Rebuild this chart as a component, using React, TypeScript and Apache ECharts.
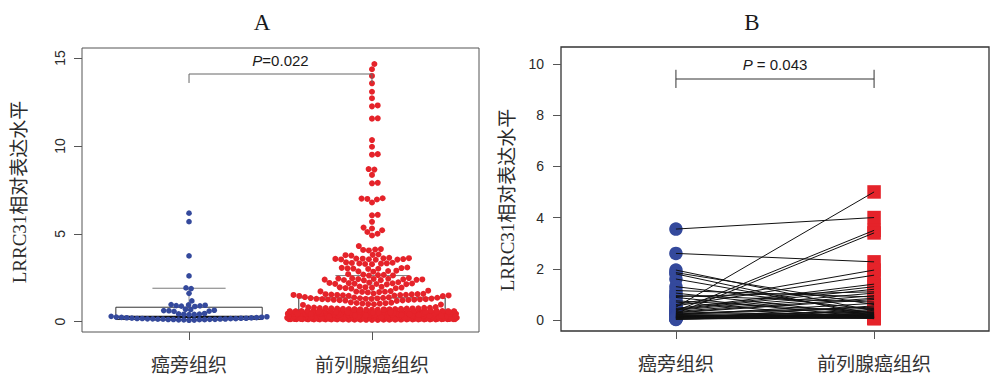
import React, { useEffect, useRef } from 'react';
import * as echarts from 'echarts';

// ---------------- data ----------------
const categories = ['癌旁组织', '前列腺癌组织'];
const panelTitles = ['A', 'B'];
const yAxisTitle = 'LRRC31相对表达水平';
const ticksA = [0, 5, 10, 15];
const ticksB = [0, 2, 4, 6, 8, 10];
const pTextA = ['P', '=0.022'];
const pTextB = ['P', ' = 0.043'];

// Panel A: normal tissue (blue)
const normalA = [
  0.08, 0.09, 0.10, 0.10, 0.11, 0.11, 0.12, 0.12, 0.13, 0.13, 0.14, 0.14, 0.15, 0.15, 0.16, 0.16,
  0.17, 0.17, 0.18, 0.18, 0.19, 0.19, 0.20, 0.21, 0.22, 0.23, 0.24, 0.25, 0.26, 0.28, 0.30,
  0.40, 0.41, 0.42, 0.43, 0.44, 0.46,
  0.58, 0.60, 0.62, 0.63, 0.65, 0.68, 0.70,
  0.86, 0.88, 0.90, 0.91, 0.93, 0.95, 0.97,
  1.18, 1.61, 1.88, 1.92, 2.60, 3.74, 5.69, 6.17,
];

// Panel A: tumour tissue (red) – dense low part
const tumorLowA = [
  0.10, 0.10, 0.11, 0.11, 0.11, 0.12, 0.12, 0.12, 0.12, 0.13, 0.13, 0.13, 0.13, 0.14, 0.14,
  0.14, 0.14, 0.15, 0.15, 0.15, 0.15, 0.16, 0.16, 0.16, 0.16, 0.17, 0.17, 0.17, 0.17, 0.18,
  0.18, 0.18, 0.18, 0.19, 0.19, 0.19, 0.19, 0.20, 0.20, 0.20, 0.20, 0.21, 0.21, 0.21, 0.21,
  0.22, 0.22, 0.22, 0.22, 0.23, 0.23, 0.23, 0.24, 0.24, 0.24, 0.24, 0.25, 0.25, 0.25, 0.26,
  0.26, 0.26, 0.27, 0.27, 0.27, 0.28, 0.28, 0.28, 0.29, 0.29, 0.29, 0.30, 0.30, 0.30, 0.31,
  0.31, 0.31, 0.32, 0.32, 0.32, 0.33, 0.33, 0.33, 0.34, 0.34, 0.35, 0.35, 0.35, 0.36, 0.36,
  0.36, 0.37, 0.37, 0.38, 0.38, 0.38, 0.39, 0.39, 0.40, 0.40, 0.40, 0.41, 0.41, 0.42, 0.42,
  0.43, 0.43, 0.43, 0.44, 0.44, 0.45, 0.45, 0.46, 0.46, 0.46, 0.47, 0.47, 0.48, 0.48, 0.49,
  0.49, 0.50, 0.50, 0.51, 0.51, 0.52, 0.52, 0.53, 0.53, 0.54, 0.54, 0.55, 0.55, 0.56, 0.56,
  0.57, 0.57, 0.58, 0.58, 0.59, 0.60, 0.60, 0.61, 0.62, 0.62, 0.63, 0.64, 0.64, 0.65, 0.66,
  0.66, 0.67, 0.68, 0.69, 0.69, 0.70, 0.71, 0.72, 0.73, 0.74, 0.75, 0.76, 0.77, 0.79, 0.81,
  0.105, 0.108, 0.115, 0.118, 0.122, 0.125, 0.127, 0.133, 0.135, 0.138, 0.142, 0.145, 0.147, 0.152, 0.155,
  0.158, 0.162, 0.164, 0.168, 0.172, 0.175, 0.178, 0.182, 0.185, 0.188, 0.192, 0.195, 0.198, 0.203, 0.206,
  0.208, 0.212, 0.215, 0.218, 0.223, 0.226, 0.228, 0.233, 0.236, 0.238, 0.243, 0.246, 0.248, 0.253, 0.256,
  0.262, 0.265, 0.268, 0.274, 0.277, 0.283, 0.286, 0.292, 0.295, 0.298, 0.304, 0.308, 0.313, 0.316, 0.322,
  0.325, 0.328, 0.334, 0.337, 0.343, 0.346, 0.353, 0.357, 0.363, 0.366, 0.372, 0.375, 0.384, 0.387, 0.393,
  0.396, 0.404, 0.407, 0.414, 0.418, 0.424, 0.428, 0.435, 0.438, 0.445, 0.449, 0.456, 0.462, 0.467, 0.473,
  0.478, 0.484, 0.488, 0.495, 0.503, 0.508, 0.514, 0.518, 0.525, 0.532, 0.537, 0.544, 0.548, 0.555, 0.563,
  0.567, 0.574, 0.582, 0.586, 0.594, 0.605, 0.613, 0.618, 0.627, 0.635, 0.645, 0.652, 0.662, 0.674, 0.683,
  0.692, 0.705, 0.715, 0.728, 0.742, 0.756, 0.768, 0.785, 0.803, 0.825, 0.112, 0.124, 0.137, 0.149, 0.163,
  0.176, 0.189, 0.201, 0.214, 0.227, 0.241, 0.254, 0.267, 0.281, 0.294, 0.307, 0.319, 0.332, 0.348, 0.361,
  0.377, 0.391, 0.402, 0.416, 0.431, 0.443, 0.458, 0.471, 0.486, 0.499, 0.512, 0.527, 0.541, 0.558, 0.572,
];

// tumour: middle rows
const tumorMidA = [
  0.95, 0.97, 0.99, 1.00, 1.02, 1.03, 1.05, 1.06, 1.08, 1.10,
  1.18, 1.20, 1.21, 1.22, 1.23, 1.24, 1.25, 1.26, 1.27, 1.28, 1.28, 1.29, 1.30, 1.30, 1.31, 1.32, 1.33, 1.34, 1.35, 1.36, 1.37, 1.38, 1.40,
  1.45, 1.46, 1.47, 1.48, 1.49, 1.50, 1.51, 1.52, 1.52, 1.53, 1.54, 1.55, 1.56, 1.57, 1.58, 1.60,
  1.66, 1.68, 1.69, 1.70, 1.71, 1.72, 1.74, 1.76,
  1.88, 1.90, 1.91, 1.93, 1.94, 1.95, 1.96, 1.98, 2.00,
  2.12, 2.13, 2.14, 2.15, 2.16, 2.17, 2.18, 2.19, 2.20, 2.22, 2.24,
  2.35, 2.36, 2.37, 2.38, 2.39, 2.40, 2.41, 2.42, 2.43, 2.44, 2.45, 2.46, 2.48,
  2.62, 2.63, 2.65, 2.66, 2.68, 2.70,
  2.84, 2.86, 2.88, 2.90,
  3.00, 3.01, 3.02, 3.03, 3.05, 3.06, 3.08,
  3.27, 3.28, 3.30, 3.31, 3.32, 3.34, 3.35, 3.37,
  3.52, 3.53, 3.54, 3.55, 3.56, 3.57, 3.58, 3.59, 3.60, 3.61, 3.63,
  3.76, 3.78, 3.80, 3.82,
  4.05, 4.08, 4.10, 4.13, 4.30,
];

// tumour: high values
const tumorHighA = [
  4.90, 5.00, 5.10, 5.20, 5.30, 5.35, 5.68, 6.05, 6.08, 6.78, 6.95, 6.98, 7.00, 7.02, 7.87, 7.90,
  8.35, 8.65, 8.68, 9.50, 9.53, 9.95, 10.33, 11.55, 11.57, 12.25, 12.30, 12.71, 13.08, 13.56,
  13.98, 14.36, 14.66,
];

// boxplot stats: [lower whisker, Q1, median, Q3, upper whisker]
const boxNormalA = [0.08, 0.12, 0.27, 0.82, 1.9];
const boxTumorA = [0.1, 0.2, 0.45, 1.35, 2.62];

// Panel B: paired samples
const pairedNormal = [
  3.55, 2.60, 1.95, 1.85, 1.80, 1.60, 1.30, 1.15, 1.05, 0.95,
  0.92, 0.88, 0.75, 0.70, 0.60, 0.55, 0.50, 0.45, 0.42, 0.40,
  0.38, 0.35, 0.33, 0.30, 0.28, 0.26, 0.25, 0.24, 0.22, 0.20,
  0.20, 0.18, 0.17, 0.16, 0.15, 0.14, 0.13, 0.12, 0.12, 0.11,
  0.10, 0.10, 0.09, 0.08, 0.07, 0.06, 0.05, 0.04, 0.03, 0.02,
];
const pairedTumor = [
  4.00, 2.27, 0.35, 0.60, 0.15, 0.25, 0.40, 0.90, 0.20, 0.70,
  1.10, 0.10, 0.30, 0.05, 1.95, 1.75, 5.00, 1.40, 1.30, 1.20,
  1.05, 3.50, 0.95, 0.85, 0.80, 0.50, 3.40, 0.45, 0.30, 0.20,
  0.65, 0.15, 0.12, 0.10, 0.25, 0.18, 0.08, 0.22, 0.10, 0.35,
  0.14, 0.06, 0.20, 0.12, 0.40, 0.10, 0.55, 0.08, 0.16, 0.28,
];

// ---------------- layout ----------------
const GA = { left: 82, top: 48, width: 397, height: 284 };
const GB = { left: 561, top: 47, width: 428, height: 284 };
const XA = [0.415, 2.585];
const YA = [-0.59, 15.57];
const XB = [0.42, 2.58];
const YB = [-0.43, 10.66];

const BLUE = '#34499c';
const RED = '#e5232a';

function swarmOffsets(values: number[], pxPerUnit: number, d: number, corral: number): number[] {
  const n = values.length;
  const order = values.map((_, i) => i).sort((a, b) => values[a] - values[b]);
  const ys = values.map((v) => v * pxPerUnit);
  const xs = new Array<number>(n).fill(0);
  const placed: number[] = [];
  const d2 = d * d;
  for (const i of order) {
    const yi = ys[i];
    const near: number[] = [];
    for (let k = placed.length - 1; k >= 0; k--) {
      const j = placed[k];
      if (yi - ys[j] >= d) break;
      near.push(j);
    }
    const cands: number[] = [0];
    for (const j of near) {
      const dy = ys[j] - yi;
      const dx = Math.sqrt(Math.max(0, d2 - dy * dy));
      cands.push(xs[j] + dx, xs[j] - dx);
    }
    cands.sort((a, b) => Math.abs(a) - Math.abs(b) || b - a);
    let best = cands[cands.length - 1];
    for (const c of cands) {
      let ok = true;
      for (const j of near) {
        const dx = xs[j] - c;
        const dy = ys[j] - yi;
        if (dx * dx + dy * dy < d2 - 1e-6) {
          ok = false;
          break;
        }
      }
      if (ok) {
        best = c;
        break;
      }
    }
    xs[i] = best;
    placed.push(i);
  }
  const half = corral / 2;
  return xs.map((x) => ((((x + half) % corral) + corral) % corral) - half);
}

const tickFont = { fontFamily: '"Liberation Sans", Arial, sans-serif', fontSize: 14, color: '#2a2a2a' };
const catFont = { fontFamily: '"Noto Sans CJK SC", sans-serif', fontSize: 19, color: '#333' };

function bracketItem(texts: string[], color: string) {
  return (params: any, api: any) => {
    const x1 = api.value(0);
    const x2 = api.value(1);
    const yl = api.value(2);
    const ylo = api.value(3);
    const yhi = api.value(4);
    const yt = api.value(5);
    const a = api.coord([x1, yl]);
    const b = api.coord([x2, yl]);
    const a1 = api.coord([x1, ylo]);
    const a2 = api.coord([x1, yhi]);
    const b1 = api.coord([x2, ylo]);
    const b2 = api.coord([x2, yhi]);
    const t = api.coord([(x1 + x2) / 2, yt]);
    const ls = { stroke: color, lineWidth: 1 };
    return {
      type: 'group',
      children: [
        { type: 'line', shape: { x1: a[0], y1: a[1], x2: b[0], y2: b[1] }, style: ls },
        { type: 'line', shape: { x1: a1[0], y1: a1[1], x2: a2[0], y2: a2[1] }, style: ls },
        { type: 'line', shape: { x1: b1[0], y1: b1[1], x2: b2[0], y2: b2[1] }, style: ls },
        {
          type: 'text',
          x: t[0],
          y: t[1],
          style: {
            text: '{i|' + texts[0] + '}{n|' + texts[1] + '}',
            align: 'center',
            verticalAlign: 'middle',
            fontSize: 15,
            fontFamily: '"Liberation Sans", Arial, sans-serif',
            fill: '#1a1a1a',
            rich: {
              i: { fontStyle: 'italic', fontSize: 15, fontFamily: '"Liberation Sans", Arial, sans-serif', fill: '#1a1a1a' },
              n: { fontSize: 15, fontFamily: '"Liberation Sans", Arial, sans-serif', fill: '#1a1a1a' },
            },
          },
        },
      ],
    };
  };
}

function boxItem(params: any, api: any) {
  const x = api.value(0);
  const lo = api.value(1);
  const q1 = api.value(2);
  const med = api.value(3);
  const q3 = api.value(4);
  const hi = api.value(5);
  const hw = 0.4;
  const sw = 0.2;
  const tl = api.coord([x - hw, q3]);
  const br = api.coord([x + hw, q1]);
  const m1 = api.coord([x - hw, med]);
  const m2 = api.coord([x + hw, med]);
  const s1 = api.coord([x - sw, hi]);
  const s2 = api.coord([x + sw, hi]);
  const l1 = api.coord([x - sw, lo]);
  const l2 = api.coord([x + sw, lo]);
  const c3 = api.coord([x, q3]);
  const ch = api.coord([x, hi]);
  return {
    type: 'group',
    children: [
      { type: 'line', shape: { x1: c3[0], y1: c3[1], x2: ch[0], y2: ch[1] }, style: { stroke: '#777', lineWidth: 0.8 } },
      { type: 'line', shape: { x1: s1[0], y1: s1[1], x2: s2[0], y2: s2[1] }, style: { stroke: '#7a7a7a', lineWidth: 1 } },
      { type: 'line', shape: { x1: l1[0], y1: l1[1], x2: l2[0], y2: l2[1] }, style: { stroke: '#7a7a7a', lineWidth: 1 } },
      {
        type: 'rect',
        shape: { x: tl[0], y: tl[1], width: br[0] - tl[0], height: br[1] - tl[1] },
        style: { fill: null, stroke: '#333', lineWidth: 1 },
      },
      { type: 'line', shape: { x1: m1[0], y1: m1[1], x2: m2[0], y2: m2[1] }, style: { stroke: '#111', lineWidth: 2.2 } },
    ],
  };
}

function pairItem(params: any, api: any) {
  const p1 = api.coord([1, api.value(0)]);
  const p2 = api.coord([2, api.value(1)]);
  return {
    type: 'line',
    shape: { x1: p1[0], y1: p1[1], x2: p2[0], y2: p2[1] },
    style: { stroke: '#111', lineWidth: 1 },
  };
}

export default function App() {
  const ref = useRef<HTMLDivElement>(null);

  useEffect(() => {
    if (!ref.current) return;
    const chart = echarts.init(ref.current, null, { renderer: 'svg' });

    const pxPerYA = GA.height / (YA[1] - YA[0]);
    const pxPerXA = GA.width / (XA[1] - XA[0]);
    const tumorA = [...tumorLowA, ...tumorMidA, ...tumorHighA];
    const offN = swarmOffsets(normalA, pxPerYA, 5.2, 170);
    const offT = swarmOffsets(tumorA, pxPerYA, 5.8, 170);
    const normalPts = normalA.map((v, i) => [1 + offN[i] / pxPerXA, v]);
    const tumorPts = tumorA.map((v, i) => [2 + offT[i] / pxPerXA, v]);

    const xAxisCommon = (range: number[], gridIndex: number) => ({
      type: 'value',
      gridIndex,
      min: range[0],
      max: range[1],
      position: 'bottom',
      axisLine: { show: false, onZero: false },
      splitLine: { show: false },
      axisTick: { show: true, length: 8, customValues: [1, 2], lineStyle: { color: '#555', width: 1 } },
      axisLabel: {
        customValues: [1, 2],
        margin: 22,
        formatter: (v: number) => categories[Math.round(v) - 1] || '',
        ...catFont,
      },
    });

    chart.setOption({
      animation: false,
      grid: [
        { ...GA, show: true, borderColor: '#555', borderWidth: 1, backgroundColor: 'transparent', outerBoundsMode: 'none' },
        { ...GB, show: true, borderColor: '#333', borderWidth: 1.3, backgroundColor: 'transparent', outerBoundsMode: 'none' },
      ],
      xAxis: [xAxisCommon(XA, 0), xAxisCommon(XB, 1)],
      yAxis: [
        {
          type: 'value',
          gridIndex: 0,
          min: YA[0],
          max: YA[1],
          position: 'left',
          axisLine: { show: false, onZero: false },
          splitLine: { show: false },
          axisTick: { show: true, length: 8, customValues: ticksA, lineStyle: { color: '#555' } },
          axisLabel: { customValues: ticksA, rotate: 90, margin: 15, ...tickFont },
        },
        {
          type: 'value',
          gridIndex: 1,
          min: YB[0],
          max: YB[1],
          position: 'left',
          axisLine: { show: false, onZero: false },
          splitLine: { show: false },
          axisTick: { show: true, length: 8, customValues: ticksB, lineStyle: { color: '#555' } },
          axisLabel: { customValues: ticksB, margin: 17, ...tickFont },
        },
      ],
      graphic: [
        { type: 'text', x: 262, y: 22, style: { text: panelTitles[0], fontSize: 23, fontFamily: '"Liberation Serif", serif', fill: '#1a1a1a', align: 'center', verticalAlign: 'middle' } },
        { type: 'text', x: 752, y: 22, style: { text: panelTitles[1], fontSize: 23, fontFamily: '"Liberation Serif", serif', fill: '#1a1a1a', align: 'center', verticalAlign: 'middle' } },
        { type: 'text', x: 19, y: 192, rotation: Math.PI / 2, style: { text: yAxisTitle, fontSize: 19, fontFamily: '"Liberation Serif", "Noto Sans CJK SC", serif', fill: '#2a2a2a', align: 'center', verticalAlign: 'middle' } },
        { type: 'text', x: 507, y: 200, rotation: Math.PI / 2, style: { text: yAxisTitle, fontSize: 19, fontFamily: '"Liberation Serif", "Noto Sans CJK SC", serif', fill: '#2a2a2a', align: 'center', verticalAlign: 'middle' } },
      ],
      series: [
        {
          type: 'custom',
          xAxisIndex: 0,
          yAxisIndex: 0,
          data: [[1, ...boxNormalA], [2, ...boxTumorA]],
          renderItem: boxItem,
          silent: true,
          z: 1,
        },
        {
          type: 'scatter',
          xAxisIndex: 0,
          yAxisIndex: 0,
          data: normalPts,
          symbol: 'circle',
          symbolSize: 5.6,
          itemStyle: { color: BLUE, opacity: 1 },
          silent: true,
          z: 2,
        },
        {
          type: 'scatter',
          xAxisIndex: 0,
          yAxisIndex: 0,
          data: tumorPts,
          symbol: 'circle',
          symbolSize: 6,
          itemStyle: { color: RED, opacity: 1 },
          silent: true,
          large: false,
          z: 2,
        },
        {
          type: 'custom',
          xAxisIndex: 0,
          yAxisIndex: 0,
          data: [[1, 2, 14.09, 13.58, 14.09, 14.88]],
          renderItem: bracketItem(pTextA, '#666'),
          silent: true,
          z: 3,
        },
        {
          type: 'scatter',
          xAxisIndex: 1,
          yAxisIndex: 1,
          data: pairedNormal.map((v) => [1, v]),
          symbol: 'circle',
          symbolSize: 13.5,
          itemStyle: { color: BLUE, opacity: 1 },
          silent: true,
          z: 2,
        },
        {
          type: 'scatter',
          xAxisIndex: 1,
          yAxisIndex: 1,
          data: pairedTumor.map((v) => [2, v]),
          symbol: 'rect',
          symbolSize: 13.5,
          itemStyle: { color: RED, opacity: 1 },
          silent: true,
          z: 2,
        },
        {
          type: 'custom',
          xAxisIndex: 1,
          yAxisIndex: 1,
          data: pairedNormal.map((v, i) => [v, pairedTumor[i]]),
          renderItem: pairItem,
          silent: true,
          z: 4,
        },
        {
          type: 'custom',
          xAxisIndex: 1,
          yAxisIndex: 1,
          data: [[1, 2, 9.41, 9.06, 9.77, 9.96]],
          renderItem: bracketItem(pTextB, '#333'),
          silent: true,
          z: 4,
        },
      ],
    });

    return () => chart.dispose();
  }, []);

  return <div ref={ref} style={{ position: 'fixed', left: 0, top: 0, width: 1000, height: 389, background: '#fff' }} />;
}
